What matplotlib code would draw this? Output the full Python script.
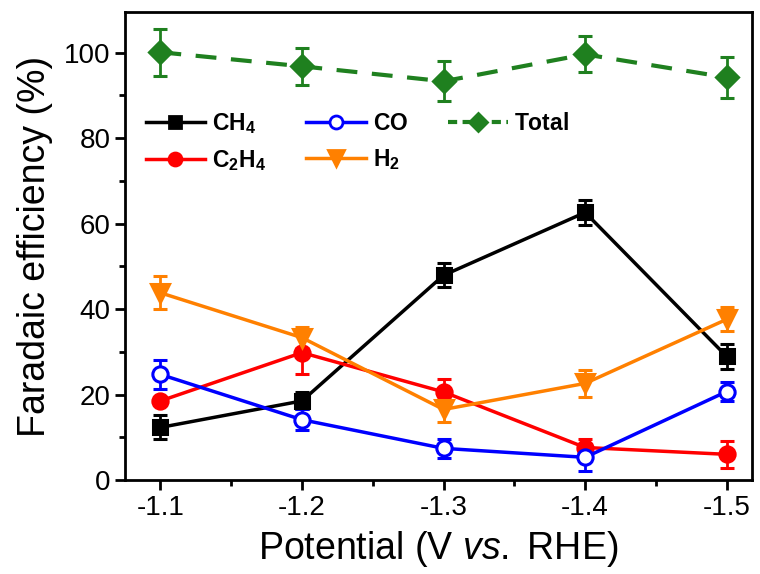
import numpy as np
import matplotlib
matplotlib.use('Agg')
import matplotlib.pyplot as plt
from matplotlib.ticker import MultipleLocator, FormatStrFormatter
from matplotlib.lines import Line2D

plt.rcParams['font.family'] = ['Liberation Sans', 'DejaVu Sans']
plt.rcParams['mathtext.fontset'] = 'custom'
plt.rcParams['mathtext.rm'] = 'Liberation Sans'
plt.rcParams['mathtext.it'] = 'Liberation Sans:italic'
plt.rcParams['mathtext.bf'] = 'Liberation Sans:bold'

# potentials (V vs. RHE)
potential = [-1.1, -1.2, -1.3, -1.4, -1.5]

# faradaic efficiencies (%) and error bars
fe_ch4   = [12.3, 18.5, 47.9, 62.6, 28.9]
err_ch4  = [2.8, 2.0, 2.8, 3.0, 3.0]
fe_c2h4  = [18.5, 29.8, 20.6, 7.6, 6.0]
err_c2h4 = [1.0, 5.0, 3.0, 2.0, 3.2]
fe_co    = [24.7, 14.1, 7.4, 5.3, 20.7]
err_co   = [3.3, 2.4, 2.2, 3.1, 2.2]
fe_h2    = [43.8, 33.3, 16.5, 22.6, 37.6]
err_h2   = [3.9, 2.5, 3.0, 3.2, 2.8]
fe_total = [100.1, 96.8, 93.3, 99.6, 94.2]
err_total = [5.5, 4.4, 4.7, 4.2, 4.7]

series = [
    # values, errors, colour, marker, markersize, facecolour, linestyle, label
    (fe_ch4,   err_ch4,   'black',   's', 10, None,    '-',           r'$\mathbf{CH_4}$'),
    (fe_c2h4,  err_c2h4,  '#ff0000', 'o', 11, None,    '-',           r'$\mathbf{C_2H_4}$'),
    (fe_co,    err_co,    '#0000ff', 'o', 11, 'white', '-',           r'$\mathbf{CO}$'),
    (fe_h2,    err_h2,    '#ff8000', 'v', 13, None,    '-',           r'$\mathbf{H_2}$'),
    (fe_total, err_total, '#1f801f', 'D', 11, None,    (0, (5, 3.5)), r'$\mathbf{Total}$'),
]

fig = plt.figure(figsize=(7.6, 5.74), dpi=100)
ax = fig.add_axes([0.1645, 0.1638, 0.8245, 0.8152])

handles = []
for y, e, c, m, ms, fc, ls, lab in series:
    mfc = fc if fc else c
    lw = 2.5 if ls == '-' else 3
    ax.errorbar(potential, y, yerr=e, color=c, marker=m, ms=ms, mfc=mfc, mew=2.2,
                lw=lw, ls=ls, capsize=5, capthick=2, elinewidth=2)
    handles.append(Line2D([], [], color=c, marker=m, ms=ms * 0.85, mfc=mfc, mew=2,
                          lw=lw, ls=ls if ls == '-' else (0, (2.2, 1.3))))

ax.set_xlim(-1.075, -1.5176)
ax.set_ylim(0, 109.5)
ax.xaxis.set_major_locator(MultipleLocator(0.1))
ax.xaxis.set_minor_locator(MultipleLocator(0.05))
ax.yaxis.set_major_locator(MultipleLocator(20))
ax.yaxis.set_minor_locator(MultipleLocator(10))
ax.xaxis.set_major_formatter(FormatStrFormatter('%.1f'))

for s in ax.spines.values():
    s.set_linewidth(2)
ax.tick_params(which='major', direction='out', length=7, width=2, labelsize=20,
               top=False, right=False)
ax.tick_params(which='minor', direction='out', length=4, width=2,
               top=False, right=False)

ax.set_xlabel('Potential (V $\\mathit{vs.}$ RHE)', fontsize=27, labelpad=6)
ax.set_ylabel('Faradaic efficiency (%)', fontsize=27, labelpad=8)

labels = [s[7] for s in series]
ax.legend(handles, labels, ncol=3, loc='upper left', bbox_to_anchor=(0.0, 0.832),
          frameon=False, prop={'size': 16.5}, handlelength=2.6,
          columnspacing=1.75, handletextpad=0.3, labelspacing=0.5)

fig.savefig('out.png', dpi=100)
